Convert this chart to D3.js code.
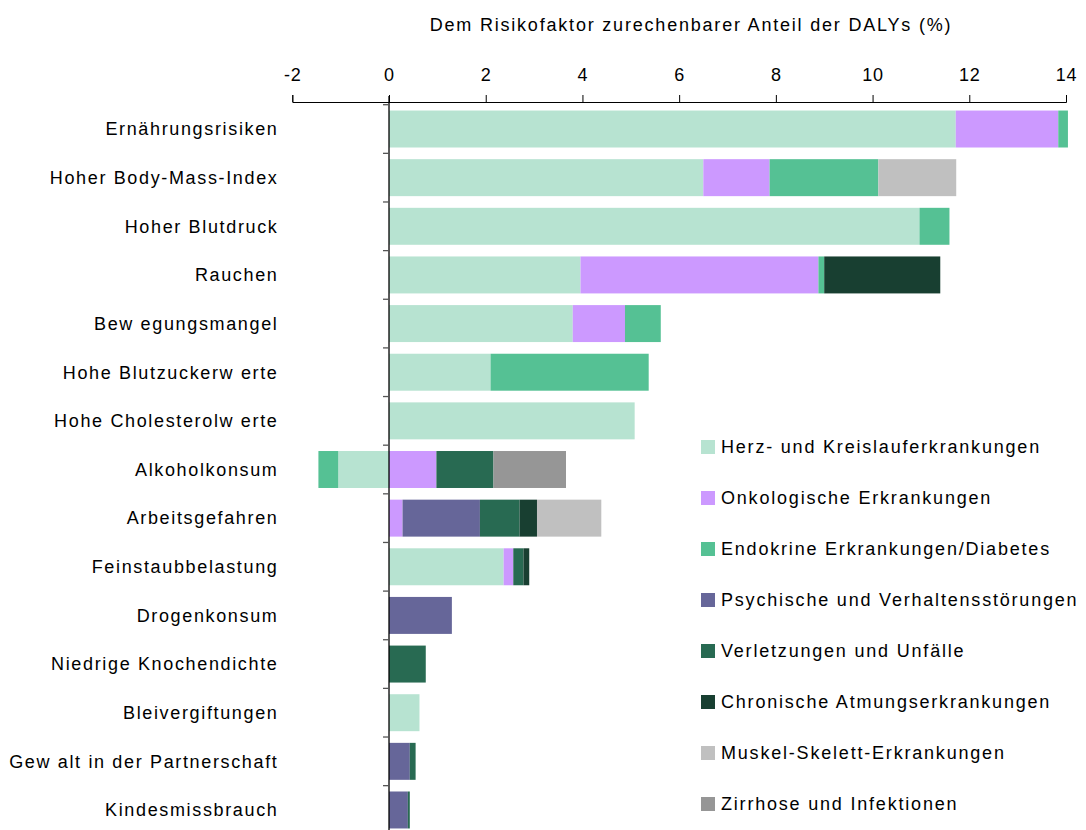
<!DOCTYPE html>
<html><head><meta charset="utf-8">
<script src="https://cdn.jsdelivr.net/npm/d3@7"></script>
<style>
body{margin:0;background:#fff;}
svg text{font-family:"Liberation Sans",Arial,sans-serif;fill:#000;}
</style></head>
<body><svg id="chart" width="1086" height="830"></svg>
<script>
const categories = ["Ernährungsrisiken","Hoher Body-Mass-Index","Hoher Blutdruck","Rauchen","Bew egungsmangel","Hohe Blutzuckerw erte","Hohe Cholesterolw erte","Alkoholkonsum","Arbeitsgefahren","Feinstaubbelastung","Drogenkonsum","Niedrige Knochendichte","Bleivergiftungen","Gew alt in der Partnerschaft","Kindesmissbrauch"];
const seriesNames = ["Herz- und Kreislauferkrankungen","Onkologische Erkrankungen","Endokrine Erkrankungen/Diabetes","Psychische und Verhaltensstörungen","Verletzungen und Unfälle","Chronische Atmungserkrankungen","Muskel-Skelett-Erkrankungen","Zirrhose und Infektionen"];
const colors = ["#b7e3d1","#cc99ff","#55c194","#666699","#286a52","#183f31","#c0c0c0","#969696"];
// values per series, in category order
const herz      = [11.72, 6.50, 10.97, 3.96, 3.80, 2.10, 5.08, -1.05, 0,    2.37, 0,    0,    0.63, 0,    0];
const onko      = [2.12,  1.37, 0,     4.92, 1.08, 0,    0,    0.98,  0.28, 0.20, 0,    0,    0,    0,    0];
const endokrin  = [0.20,  2.25, 0.62,  0.12, 0.74, 3.27, 0,    -0.41, 0,    0,    0,    0,    0,    0,    0];
const psych     = [0,     0,    0,     0,    0,    0,    0,    0,     1.60, 0,    1.30, 0,    0,    0.43, 0.39];
const verletz   = [0,     0,    0,     0,    0,    0,    0,    1.18,  0.82, 0.21, 0,    0.76, 0,    0.12, 0.04];
const atmung    = [0,     0,    0,     2.40, 0,    0,    0,    0,     0.36, 0.12, 0,    0,    0,    0,    0];
const muskel    = [0,     1.61, 0,     0,    0,    0,    0,    0,     1.33, 0,    0,    0,    0,    0,    0];
const zirrhose  = [0,     0,    0,     0,    0,    0,    0,    1.50,  0,    0,    0,    0,    0,    0,    0];
const xTicks = [-2,0,2,4,6,8,10,12,14];
const xTickLabels = ["-2","0","2","4","6","8","10","12","14"];
const axisTitle = "Dem Risikofaktor zurechenbarer Anteil der DALYs (%)";

const seriesVals = [herz,onko,endokrin,psych,verletz,atmung,muskel,zirrhose];
const svg = d3.select("#chart");
const x = d3.scaleLinear().domain([-2,14]).range([292.3,1066]);
const y = d3.scaleBand().domain(categories).range([104.7,834.3]).paddingInner(0.24).paddingOuter(0.12);

// stacked bars (diverging)
categories.forEach((c,i)=>{
  let pos=0, neg=0;
  seriesVals.forEach((s,k)=>{
    const v=s[i]; if(!v) return;
    let x0,x1;
    if(v>0){x0=pos;x1=pos+v;pos=x1;} else {x1=neg;x0=neg+v;neg=x0;}
    svg.append("rect").attr("x",x(x0)).attr("y",y(c)).attr("width",x(x1)-x(x0)).attr("height",y.bandwidth()).attr("fill",colors[k]);
  });
});

// top axis
const ax = svg.append("g").attr("transform","translate(0,102)").call(d3.axisTop(x).tickValues(xTicks).tickSize(7).tickPadding(14).tickFormat((d,i)=>xTickLabels[i]));
ax.select(".domain").attr("stroke","#000");
ax.selectAll(".tick line").attr("stroke","#000");
ax.selectAll("text").style("font-size","18px").style("letter-spacing","0.8px").style("font-family","Liberation Sans, Arial, sans-serif");

// y axis at zero
svg.append("line").attr("x1",x(0)).attr("x2",x(0)).attr("y1",96).attr("y2",830).attr("stroke","#000").attr("stroke-width",1.3);
const step = y.step();
d3.range(categories.length+1).forEach(j=>{
  const yy = 104.7 + j*step;
  svg.append("line").attr("x1",x(0)-6).attr("x2",x(0)).attr("y1",yy).attr("y2",yy).attr("stroke","#555").attr("stroke-width",1.3);
});

// category labels
svg.selectAll("text.cat").data(categories).join("text").attr("class","cat")
  .attr("x",278.5).attr("y",d=>y(d)+y.bandwidth()/2).attr("dy","0.35em").attr("text-anchor","end")
  .style("font-size","18px").style("letter-spacing","1.65px").text(d=>d);

// title
svg.append("text").attr("x",691).attr("y",31).attr("text-anchor","middle").style("font-size","18px").style("letter-spacing","1.8px").text(axisTitle);

// legend
const lg = svg.append("g");
seriesNames.forEach((n,k)=>{
  const yy = 447 + k*51;
  lg.append("rect").attr("x",701).attr("y",yy-7).attr("width",14).attr("height",14).attr("fill",colors[k]);
  lg.append("text").attr("x",721).attr("y",yy).attr("dy","0.35em").style("font-size","18px").style("letter-spacing","1.8px").text(n);
});
</script></body></html>
